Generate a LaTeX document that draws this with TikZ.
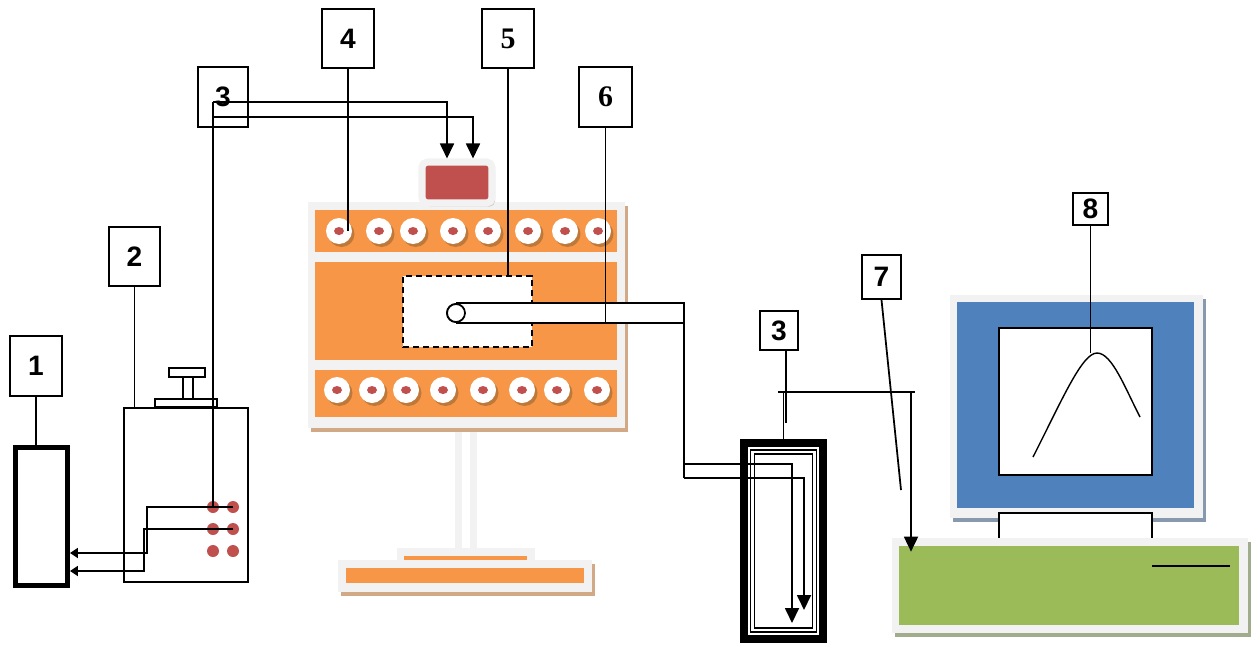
\documentclass[tikz,border=0pt]{standalone}
\usepackage{fontspec}
\setmainfont{Liberation Serif}
\setsansfont{Liberation Sans}
\usetikzlibrary{positioning, arrows.meta, shadows}
\definecolor{oven}{HTML}{F79646}
\definecolor{brick}{HTML}{C0504D}
\definecolor{screen}{HTML}{4F81BD}
\definecolor{pcgreen}{HTML}{9BBB59}
\definecolor{rim}{HTML}{F2F2F2}
\definecolor{rust}{HTML}{D2A987}
\tikzset{tag/.style n args={2}{draw,line width=1pt,minimum width=#1*0.02cm,minimum height=#2*0.02cm,inner sep=0pt,font=\sffamily\bfseries\fontsize{16}{18}\selectfont},
         box/.style n args={2}{draw,minimum width=#1*0.02cm,minimum height=#2*0.02cm,inner sep=0pt},
         wire/.style={line width=1pt},
         arr/.style={wire,-{Triangle[length=3mm,width=2.8mm]}},
         smallarr/.style={wire,-{Triangle[length=1.6mm,width=2mm]}},
         socket/.style={circle,fill=white,minimum size=5.2mm,inner sep=0pt,
                        drop shadow={shadow xshift=0.5mm,shadow yshift=-0.6mm,fill=brown!80!black,opacity=0.6}},
         jack/.style={circle,fill=brick,minimum size=2.4mm,inner sep=0pt},
         serif/.style={font=\rmfamily\bfseries\fontsize{17}{18}\selectfont},
        }

\begin{document}
\begin{tikzpicture}[x=0.02cm,y=-0.02cm]
        \useasboundingbox(0,0)rectangle(1260,646);

        \node[tag={52}{60}](l1)at(36,366){1};
        \node[tag={51}{59}](l2)at(134.5,256.5){2};
        \node[tag={50}{60}](l3)at(223,97){3};
        \node[tag={52}{59}](l4)at(348,38.5){4};
        \node[tag={52}{59},serif](l5)at(508,38.5){5};
        \node[tag={53}{60},serif](l6)at(605.5,97){6};
        \node[tag={38}{39}](l3b)at(779,330.5){3};
        \node[tag={39}{44}](l7)at(881.5,277){7};
        \node[tag={35}{32}](l8)at(1090.5,209){8};

        % recorder and power unit
        \node[box={52}{138},line width=2.8pt](cell)at(41.5,516.5){};
        \node[box={124}{174},wire](unit)at(186,495){};
        \draw[wire,fill=white](183,377)rectangle(193,399);
        \draw[wire,fill=white](169,368)rectangle(205,377);
        \draw[wire,fill=white](155,399)rectangle(217,407);
        \foreach \r/\y in {1/507,2/529,3/551}{
            \node[jack](a\r)at(213,\y){};
            \node[jack](b\r)at(233,\y){};
        }
        \draw[wire](l1.south)--(l1.south|-cell.north);
        \draw[wire](l2.south)--(l2.south|-unit.north);
        \draw[smallarr](b1.center)--(147,507)--(147,553)--(cell.east|-0,553);
        \draw[smallarr](b2.center)--(144,529)--(144,571)--(cell.east|-0,571);

        % stand
        \fill[rim](455,425)rectangle(477,550);
        \fill[white](462,425)rectangle(470,548);
        \fill[rim](397,548)rectangle(535,560);
        \fill[oven](404,556)rectangle(527,560);
        \fill[rim,drop shadow={shadow xshift=0.6mm,shadow yshift=-0.8mm,fill=rust,opacity=1}](338,560)rectangle(592,592);
        \fill[oven](346,568)rectangle(584,583);

        % furnace
        \fill[rim,drop shadow={shadow xshift=0.6mm,shadow yshift=-0.8mm,fill=rust,opacity=1}](308,202)rectangle(625,428);
        \fill[oven](315,210)rectangle(617,252);
        \fill[oven](315,262)rectangle(617,360);
        \fill[oven](315,370)rectangle(617,417);
        \node[box={129}{71},fill=white,line width=1.2pt,dash pattern=on 1.2mm off 0.8mm](zone)at(467.5,311.5){};
        \foreach \x[count=\i] in {339,379,413,453,488,528,565,598}{
            \node[socket](u\i)at(\x,231){};
            \fill[brick](u\i)ellipse[x radius=5,y radius=4];
        }
        \foreach \x[count=\i] in {337,372,406,443,483,522,557,597}{
            \node[socket](v\i)at(\x,390){};
            \fill[brick](v\i)ellipse[x radius=5,y radius=4];
        }
        \node[box={70}{41},draw=rim,line width=4pt,fill=brick,rounded corners=3pt,
              drop shadow={shadow xshift=0.6mm,shadow yshift=-0.7mm,fill=black!20,opacity=1}](ctrl)at(457,182.5){};

        % sample tube
        \node[circle,draw,wire,fill=white,minimum size=3.6mm,inner sep=0pt](hot)at(456,313){};
        \coordinate(bend)at(684,304);
        \coordinate(j1)at(684,464);
        \coordinate(t1)at(792,623);
        \coordinate(t2)at(804,610);
        \fill[white](hot.north)rectangle(hot.south-|bend);
        \draw[wire](hot.south)--(hot.south-|bend);
        \draw[wire](hot.north)-|(684,478);
        \node[circle,draw,wire,fill=white,minimum size=3.6mm,inner sep=0pt]at(hot){};

        % thermocouple to the controller
        \coordinate(tc)at(213,102);
        \draw[wire](tc)--(a1.center);
        \draw[arr](tc)-|([xshift=-2mm]ctrl.north);
        \draw[arr](tc|-0,117)-|([xshift=3.2mm]ctrl.north);

        \draw[wire](l4.south)--(l4.south|-u1.center);
        \draw[wire](l5.south)--(l5.south|-zone.north);
        \draw[wire](l6.south)--(l6.south|-hot.south);

        % cold junction flask
        \node[box={79}{196},line width=4.5pt](flask)at(783.5,541){};
        \node[box={66}{182},wire](inner)at(flask){};
        \node[box={58}{174},wire](inner2)at(flask){};
        \draw[arr](684,478)-|(t2);
        \draw[arr](j1)-|(t1);

        % computer
        \fill[rim,drop shadow={shadow xshift=0.6mm,shadow yshift=-0.8mm,fill=screen!40!gray,opacity=0.8}](950,295)rectangle(1203,518);
        \fill[screen](957,302)rectangle(1194,508);
        \node[box={153}{147},wire,fill=white](disp)at(1075.5,401.5){};
        \coordinate(peak)at(1097,353);
        \draw[line width=0.8pt](1033,457)..controls(1062,400)and(1082,353)..(peak)..controls(1112,353)and(1125,388)..(1140,417);
        \node[box={153}{29},wire,fill=white](neck)at(1075.5,527.5){};
        \fill[rim,drop shadow={shadow xshift=0.6mm,shadow yshift=-0.8mm,fill=pcgreen!40!gray,opacity=0.8}](892,538)rectangle(1248,633);
        \node[box={340}{79},draw=none,fill=pcgreen](base)at(1069,585.5){};
        \draw[wire](1152,566)--(1230,566);

        \coordinate(bus)at(911,392);
        \draw[wire](l3b.south)++(7,0)--++(0,72);
        \draw[wire](flask.north)--(flask.north|-bus);
        \draw[wire](778,392)--(915,392);
        \draw[arr](bus)--([yshift=-1.2mm]bus|-base.north);
        \draw[wire](l7.south)--(901,490);
        \draw[wire](l8.south)--(l8.south|-peak);
    \end{tikzpicture}
\end{document}
